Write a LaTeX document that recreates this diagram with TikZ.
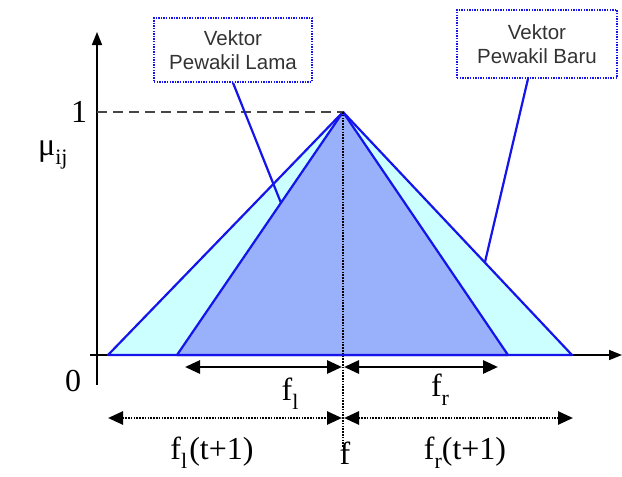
\documentclass[tikz,border=0pt]{standalone}
\usepackage{fontspec}
\setmainfont{Liberation Serif}
\newfontfamily\boxfont{Liberation Sans}
\usetikzlibrary{arrows.meta}
\definecolor{lightcy}{RGB}{204,255,255}
\definecolor{periw}{RGB}{153,176,250}
\definecolor{edgeblue}{RGB}{20,20,235}
\definecolor{dashgray}{RGB}{70,70,70}
\tikzset{
  tri/.style={draw=edgeblue,line width=2.2pt,line join=round},
  axis/.style={line width=1.6pt,-{Triangle[length=13pt,width=10pt]}},
  dimsolid/.style={line width=2.8pt,{Triangle[length=15pt,width=13pt]}-{Triangle[length=15pt,width=13pt]}},
  dimdot/.style={line width=2.6pt,dash pattern=on 1.6pt off 1.2pt,{Triangle[length=15pt,width=13pt]}-{Triangle[length=15pt,width=13pt]}},
  callbox/.style={draw=edgeblue,dash pattern=on 1.4pt off 1.2pt,line width=1.6pt,font=\boxfont\fontsize{20.5}{24}\selectfont,align=center,text=black!80},
  callline/.style={draw=edgeblue,line width=2.2pt},
  lbl/.style={font=\fontsize{32}{34}\selectfont,inner sep=0pt}
}
\begin{document}
\begin{tikzpicture}[x=1pt,y=-1pt]
\useasboundingbox (0,0) rectangle (622,477);
\coordinate (P) at (343,112);
\coordinate (OL) at (108,355);
\coordinate (OR) at (572,355);
\coordinate (IL) at (177,355);
\coordinate (IR) at (508,355);
% axes
\coordinate (xs) at (90,355);
\coordinate (xe) at (622,355);
\coordinate (ys) at (97,385);
\coordinate (ye) at (97,32);
\draw[axis] (xs) -- (xe);
\draw[axis] (ys) -- (ye);
% triangles
\filldraw[tri,fill=lightcy] (OL) -- (P) -- (OR) -- cycle;
\filldraw[tri,fill=periw] (IL) -- (P) -- (IR) -- cycle;
% dashed line to 1
\coordinate (y1) at (97,112);
\draw[dashgray,dash pattern=on 10pt off 6pt,line width=1.8pt] (y1) -- (P);
% vertical dotted
\coordinate (fb) at (343,447);
\draw[black,dash pattern=on 1.6pt off 1.2pt,line width=2.2pt] (P) -- (fb);
% dimension arrows
\coordinate (a1) at (185,367);
\coordinate (a2) at (342,367);
\coordinate (a3) at (344,367);
\coordinate (a4) at (498,367);
\draw[dimsolid] (a1) -- (a2);
\draw[dimsolid] (a3) -- (a4);
\coordinate (b1) at (108,418);
\coordinate (b2) at (342,418);
\coordinate (b3) at (344,418);
\coordinate (b4) at (573,418);
\draw[dimdot] (b1) -- (b2);
\draw[dimdot] (b3) -- (b4);
% labels
\node[lbl] (one) at (79,112) {1};
\node[lbl] (zero) at (73,381) {0};
\node[lbl,anchor=west] (mu) at (38,155) {μ\raisebox{-9pt}{\fontsize{22}{24}\selectfont ij}};
\node[lbl] (fl) at (290,394) {f\raisebox{-9pt}{\fontsize{22}{24}\selectfont l}};
\node[lbl] (fr) at (440,390) {f\raisebox{-9pt}{\fontsize{22}{24}\selectfont r}};
\node[lbl] (flt) at (212,453) {f\raisebox{-9pt}{\fontsize{22}{24}\selectfont l}\hspace{2pt}(t+1)};
\node[lbl] (f) at (345,453) {f};
\node[lbl] (frt) at (465,453) {f\raisebox{-9pt}{\fontsize{22}{24}\selectfont r}(t+1)};
% callout boxes
\node[callbox,minimum width=158pt,minimum height=64pt] (lama) at (233,50) {Vektor\\Pewakil Lama};
\node[callbox,minimum width=160pt,minimum height=68pt] (baru) at (537,44) {Vektor\\Pewakil Baru};
\coordinate (lt) at (281,203);
\coordinate (bt) at (485,262);
\draw[callline] (lama.south) -- (lt);
\draw[callline] ([xshift=-9pt]baru.south) -- (bt);
\end{tikzpicture}
\end{document}
